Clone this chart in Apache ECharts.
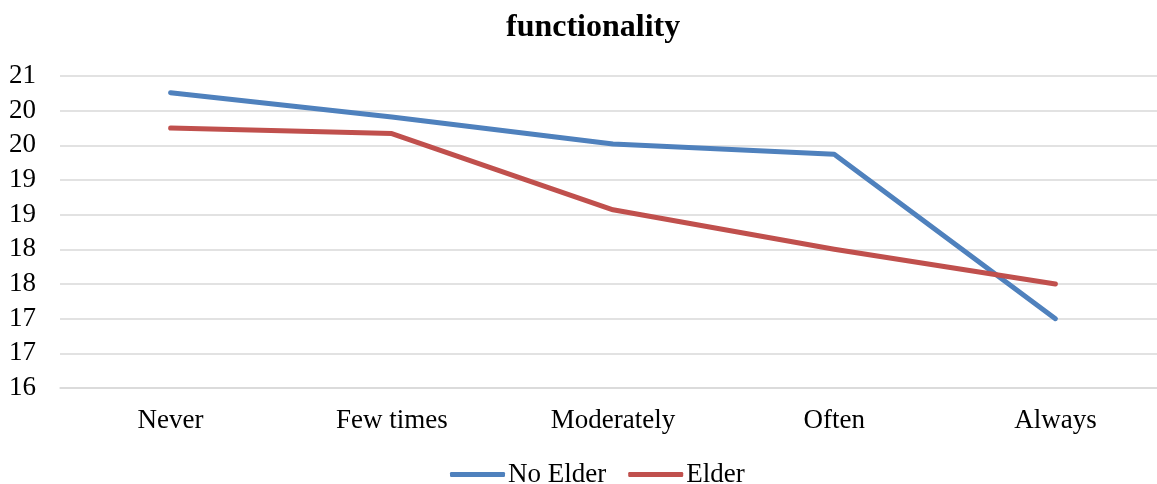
<!DOCTYPE html>
<html>
<head>
<meta charset="utf-8">
<script src="https://cdn.jsdelivr.net/npm/echarts@6/dist/echarts.min.js"></script>
<style>
  html, body { margin: 0; padding: 0; background: #fff; overflow: hidden; }
  #chart { width: 1157px; height: 484px; }
</style>
</head>
<body>
<div id="chart"></div>
<script>
// Frequency categories along the x axis
const categories = ['Never', 'Few times', 'Moderately', 'Often', 'Always'];
// Mean functionality score per group
const noElder = [20.26, 19.91, 19.52, 19.37, 17.0];
const elder = [19.75, 19.67, 18.57, 18.0, 17.5];
const seriesNames = ['No Elder', 'Elder'];

const serif = '"Liberation Serif", "Times New Roman", serif';

const chart = echarts.init(document.getElementById('chart'), null, { renderer: 'canvas' });
chart.setOption({
  animation: false,
  backgroundColor: '#ffffff',
  title: {
    text: 'functionality',
    left: 501,
    top: 7,
    textStyle: { fontFamily: serif, fontSize: 32, fontWeight: 'bold', color: '#000' }
  },
  legend: {
    data: seriesNames,
    top: 456,
    left: 445,
    icon: 'roundRect',
    itemWidth: 55,
    itemHeight: 5,
    itemGap: 22,
    textStyle: { fontFamily: serif, fontSize: 27, color: '#000', padding: [0, 0, 0, -2] }
  },
  // the plot runs a little past the right edge of the canvas
  grid: { left: 60, top: 76, width: 1106, height: 312, outerBoundsMode: 'none', containLabel: false },
  xAxis: {
    type: 'category',
    data: categories,
    boundaryGap: true,
    axisLine: { show: true, lineStyle: { color: '#d9d9d9', width: 1.5 } },
    axisTick: { show: false },
    axisLabel: { fontFamily: serif, fontSize: 27, color: '#000', margin: 19 }
  },
  yAxis: {
    type: 'value',
    min: 16,
    max: 20.5,
    interval: 0.5,
    axisLine: { show: false },
    axisTick: { show: false },
    splitLine: { lineStyle: { color: '#d9d9d9', width: 1.5 } },
    axisLabel: {
      fontFamily: serif, fontSize: 27, color: '#000', margin: 24,
      formatter: v => String(Math.round(v))
    }
  },
  series: [
    {
      name: seriesNames[0], type: 'line', data: noElder,
      symbol: 'none', color: '#4F81BD',
      lineStyle: { width: 5, color: '#4F81BD', cap: 'round', join: 'round' }
    },
    {
      name: seriesNames[1], type: 'line', data: elder,
      symbol: 'none', color: '#C0504D',
      lineStyle: { width: 5, color: '#C0504D', cap: 'round', join: 'round' }
    }
  ]
});
</script>
</body>
</html>
